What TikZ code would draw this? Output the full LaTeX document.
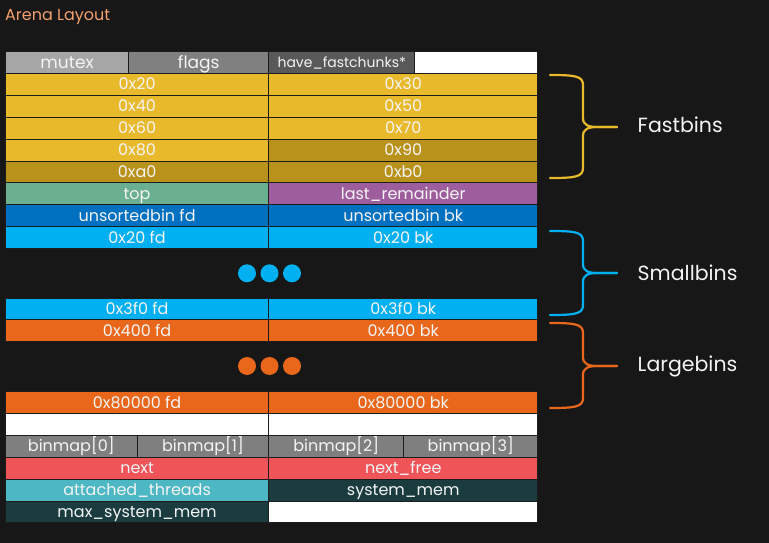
\documentclass[tikz,border=0pt]{standalone}
\usepackage{fontspec}
\setmainfont{Poppins}

\definecolor{bg}{HTML}{171717}
\definecolor{titlec}{HTML}{F2A16E}
\definecolor{celltxt}{HTML}{F4F4F4}
\definecolor{cellline}{HTML}{1C1C1C}
\definecolor{greyA}{HTML}{A6A6A6}
\definecolor{greyB}{HTML}{808080}
\definecolor{greyC}{HTML}{595959}
\definecolor{yel}{HTML}{E7B92B}
\definecolor{yeldk}{HTML}{B8921B}
\definecolor{topg}{HTML}{6AAF8F}
\definecolor{purp}{HTML}{9E5E9E}
\definecolor{ublue}{HTML}{0070C0}
\definecolor{sblue}{HTML}{00B0F0}
\definecolor{lorange}{HTML}{E9671A}
\definecolor{bmap}{HTML}{7F7F7F}
\definecolor{redc}{HTML}{EF5459}
\definecolor{teal}{HTML}{4DB7C3}
\definecolor{dteal}{HTML}{1A3C3F}

\tikzset{
  cell/.style={draw=cellline, line width=0.9pt, anchor=north west, inner sep=0pt,
    text=celltxt, font=\fontsize{16}{16}\selectfont, text height=11.2pt, text depth=0pt},
  bigtext/.style={font=\fontsize{17}{17}\selectfont, text height=12.4pt},
  small/.style={font=\fontsize{14}{14}\selectfont, text height=9.8pt},
  bindot/.style={circle, inner sep=0pt, minimum size=18pt},
  brace/.style={line width=2.2pt, line cap=round, line join=round},
  binlabel/.style={anchor=base west, inner sep=0pt, text=celltxt, font=\fontsize{20.5}{20.5}\selectfont},
}

% \cellbox[extra]{name}{fill}{x1}{y1}{x2}{y2}{text}, y measured downwards
\newcommand\cellbox[8][]{%
  \node[cell, #1, fill=#3, minimum width={(#6-#4)*1pt}, minimum height={(#7-#5)*1pt}]
    (#2) at (#4pt,-#5pt) {#8};}

% \bracket{name}{colour}{top}{middle}{bottom}
\newcommand\bracket[5]{%
  \coordinate (#1-tip) at (617pt,-#4pt);
  \draw[brace, draw=#2] (550pt,-#3pt) .. controls (575pt,-#3pt) and (583pt,-#3pt-1pt) .. (583pt,-#3pt-10pt)
    -- (583pt,-#4pt+9pt) .. controls (583pt,-#4pt+2pt) and (588pt,-#4pt) .. (598pt,-#4pt) -- (#1-tip);
  \draw[brace, draw=#2] (#1-tip) -- (598pt,-#4pt) .. controls (588pt,-#4pt) and (583pt,-#4pt-2pt) .. (583pt,-#4pt-9pt)
    -- (583pt,-#5pt+10pt) .. controls (583pt,-#5pt+1pt) and (575pt,-#5pt) .. (550pt,-#5pt);}

\begin{document}
\begin{tikzpicture}
\useasboundingbox (0pt,0pt) rectangle (769pt,-543pt);
\fill[bg] (0pt,0pt) rectangle (769pt,-543pt);

\node[anchor=base west, inner sep=0pt, text=titlec, font=\fontsize{16}{16}\selectfont] (title) at (5pt,-21pt) {Arena Layout};

% header row
\cellbox[bigtext]{mutex}{greyA}{5}{51}{128.3}{72.9}{mutex}
\cellbox[bigtext]{flags}{greyB}{128.3}{51}{268.3}{72.9}{flags}
\cellbox[small]{havefc}{greyC}{268.3}{51}{414.3}{72.9}{have\_fastchunks*}
\cellbox{hdrpad}{white}{414.3}{51}{537.3}{72.9}{}

% fastbins
\cellbox{f20}{yel}{5}{72.9}{268.3}{94.8}{0x20}
\cellbox{f30}{yel}{268.3}{72.9}{537.3}{94.8}{0x30}
\cellbox{f40}{yel}{5}{94.8}{268.3}{116.7}{0x40}
\cellbox{f50}{yel}{268.3}{94.8}{537.3}{116.7}{0x50}
\cellbox{f60}{yel}{5}{116.7}{268.3}{138.6}{0x60}
\cellbox{f70}{yel}{268.3}{116.7}{537.3}{138.6}{0x70}
\cellbox{f80}{yel}{5}{138.6}{268.3}{160.5}{0x80}
\cellbox{f90}{yeldk}{268.3}{138.6}{537.3}{160.5}{0x90}
\cellbox{fa0}{yeldk}{5}{160.5}{268.3}{182.4}{0xa0}
\cellbox{fb0}{yeldk}{268.3}{160.5}{537.3}{182.4}{0xb0}

% top / last remainder / unsorted
\cellbox{top}{topg}{5}{182.4}{268.3}{204.3}{top}
\cellbox{lastrem}{purp}{268.3}{182.4}{537.3}{204.3}{last\_remainder}
\cellbox{ufd}{ublue}{5}{204.3}{268.3}{226.2}{unsortedbin fd}
\cellbox{ubk}{ublue}{268.3}{204.3}{537.3}{226.2}{unsortedbin bk}

% smallbins
\cellbox{s20fd}{sblue}{5}{226.2}{268.3}{248.1}{0x20 fd}
\cellbox{s20bk}{sblue}{268.3}{226.2}{537.3}{248.1}{0x20 bk}
\node[bindot, fill=sblue] (sdot1) at (247pt,-273.3pt) {};
\node[bindot, fill=sblue] (sdot2) at (269.5pt,-273.3pt) {};
\node[bindot, fill=sblue] (sdot3) at (292pt,-273.3pt) {};
\cellbox{s3f0fd}{sblue}{5}{297.5}{268.3}{319.4}{0x3f0 fd}
\cellbox{s3f0bk}{sblue}{268.3}{297.5}{537.3}{319.4}{0x3f0 bk}

% largebins
\cellbox{l400fd}{lorange}{5}{319.4}{268.3}{341.3}{0x400 fd}
\cellbox{l400bk}{lorange}{268.3}{319.4}{537.3}{341.3}{0x400 bk}
\node[bindot, fill=lorange] (ldot1) at (247pt,-366pt) {};
\node[bindot, fill=lorange] (ldot2) at (269.5pt,-366pt) {};
\node[bindot, fill=lorange] (ldot3) at (292pt,-366pt) {};
\cellbox{l8fd}{lorange}{5}{391}{268.3}{412.9}{0x80000 fd}
\cellbox{l8bk}{lorange}{268.3}{391}{537.3}{412.9}{0x80000 bk}

% tail of the arena
\cellbox{padA}{white}{5}{412.9}{268.3}{434.8}{}
\cellbox{padB}{white}{268.3}{412.9}{537.3}{434.8}{}
\cellbox{bm0}{bmap}{5}{434.8}{136.7}{456.7}{binmap[0]}
\cellbox{bm1}{bmap}{136.7}{434.8}{268.3}{456.7}{binmap[1]}
\cellbox{bm2}{bmap}{268.3}{434.8}{403.3}{456.7}{binmap[2]}
\cellbox{bm3}{bmap}{403.3}{434.8}{537.3}{456.7}{binmap[3]}
\cellbox{next}{redc}{5}{456.7}{268.3}{478.6}{next}
\cellbox{nextfree}{redc}{268.3}{456.7}{537.3}{478.6}{next\_free}
\cellbox{attached}{teal}{5}{478.6}{268.3}{500.5}{attached\_threads}
\cellbox{sysmem}{dteal}{268.3}{478.6}{537.3}{500.5}{system\_mem}
\cellbox{maxsys}{dteal}{5}{500.5}{268.3}{522.4}{max\_system\_mem}
\cellbox{padC}{white}{268.3}{500.5}{537.3}{522.4}{}

% brackets and their labels
\bracket{fastbr}{yel}{75}{127}{178}
\bracket{smallbr}{sblue}{231}{273}{315}
\bracket{largebr}{lorange}{323}{366}{408}
\node[binlabel] (fastlbl) at (637.5pt,-132.5pt) {Fastbins};
\node[binlabel] (smalllbl) at (637.5pt,-280.5pt) {Smallbins};
\node[binlabel] (largelbl) at (637.5pt,-371.5pt) {Largebins};
\end{tikzpicture}
\end{document}
